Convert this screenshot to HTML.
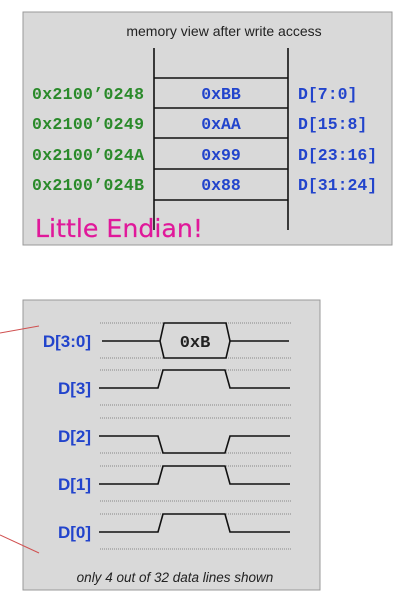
<!DOCTYPE html>
<html><head><style>
body{margin:0;background:#fff;}
text{font-family:"Liberation Sans",sans-serif;}
text.m{font-family:"Liberation Mono",monospace;font-weight:bold;}
text.h{font-family:"DejaVu Sans",sans-serif;}
</style></head><body>
<svg width="405" height="601" viewBox="0 0 405 601" xmlns="http://www.w3.org/2000/svg">
<rect x="23" y="12" width="369" height="233" fill="#d9d9d9" stroke="#999" stroke-width="1"/>
<text x="224" y="36" font-size="14" text-anchor="middle" fill="#222">memory view after write access</text>
<g stroke="#111" stroke-width="1.6">
<line x1="154" y1="48" x2="154" y2="230"/><line x1="288" y1="48" x2="288" y2="230"/>
<line x1="154" y1="78" x2="288" y2="78"/><line x1="154" y1="108" x2="288" y2="108"/>
<line x1="154" y1="138" x2="288" y2="138"/><line x1="154" y1="169" x2="288" y2="169"/>
<line x1="154" y1="200" x2="288" y2="200"/></g>
<g font-size="16.5">
<g fill="#2a8a2a">
<text class="m" x="32" y="99" textLength="112">0x2100’0248</text><text class="m" x="32" y="129" textLength="112">0x2100’0249</text>
<text class="m" x="32" y="160" textLength="112">0x2100’024A</text><text class="m" x="32" y="190" textLength="112">0x2100’024B</text></g>
<g fill="#2244cc" text-anchor="middle">
<text class="m" x="221" y="99">0xBB</text><text class="m" x="221" y="129">0xAA</text>
<text class="m" x="221" y="160">0x99</text><text class="m" x="221" y="190">0x88</text></g>
<g fill="#2244cc">
<text class="m" x="298" y="99">D[7:0]</text><text class="m" x="298" y="129">D[15:8]</text>
<text class="m" x="298" y="160">D[23:16]</text><text class="m" x="298" y="190">D[31:24]</text></g></g>
<text class="h" x="35" y="237" font-size="25" fill="#e0189a" stroke="#e0189a" stroke-width="0.2" textLength="168" lengthAdjust="spacingAndGlyphs">Little Endian!</text>

<rect x="23" y="300" width="297" height="290" fill="#d9d9d9" stroke="#999" stroke-width="1"/>
<line x1="0" y1="333" x2="39" y2="326" stroke="#d05050" stroke-width="1"/>
<line x1="0" y1="535" x2="39" y2="553" stroke="#d05050" stroke-width="1"/>
<g stroke="#888" stroke-width="1" stroke-dasharray="1,1">
<line x1="100" y1="323" x2="291" y2="323"/><line x1="100" y1="358" x2="291" y2="358"/>
<line x1="100" y1="370" x2="291" y2="370"/><line x1="100" y1="405" x2="291" y2="405"/>
<line x1="100" y1="418" x2="291" y2="418"/><line x1="100" y1="453" x2="291" y2="453"/>
<line x1="100" y1="466" x2="291" y2="466"/><line x1="100" y1="501" x2="291" y2="501"/>
<line x1="100" y1="514" x2="291" y2="514"/><line x1="100" y1="549" x2="291" y2="549"/></g>
<g fill="none" stroke="#111" stroke-width="1.6">
<path d="M102 341 H160 M230 341 H289"/>
<path d="M164 323 H226 L230 341 L226 358 H164 L160 341 Z"/>
<path d="M99 388 H158 L163 370 H225 L230 388 H290"/>
<path d="M99 436 H158 L163 453 H225 L230 436 H290"/>
<path d="M99 484 H158 L163 466 H225 L230 484 H290"/>
<path d="M99 532 H158 L163 514 H225 L230 532 H290"/>
</g>
<text class="m" x="195" y="347" font-size="17" text-anchor="middle" fill="#222">0xB</text>
<g fill="#2244cc" font-weight="bold" font-size="17" text-anchor="end">
<text x="91" y="347">D[3:0]</text><text x="91" y="394">D[3]</text>
<text x="91" y="442">D[2]</text><text x="91" y="490">D[1]</text><text x="91" y="538">D[0]</text></g>
<text x="175" y="582" font-size="13.5" font-style="italic" text-anchor="middle" fill="#222">only 4 out of 32 data lines shown</text>
</svg>
</body></html>
